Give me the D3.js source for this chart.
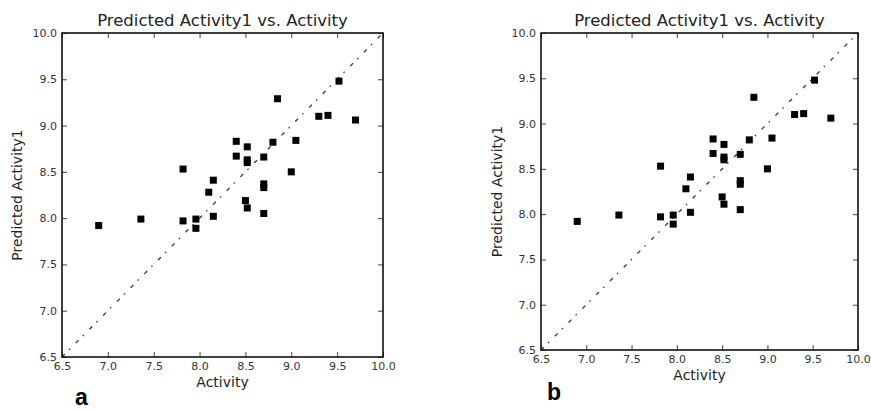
<!DOCTYPE html>
<html>
<head>
<meta charset="utf-8">
<script src="https://cdn.jsdelivr.net/npm/d3@7"></script>
<style>
  html, body { margin: 0; padding: 0; background: #fff; }
  svg { display: block; }
</style>
</head>
<body>
<svg id="chart" width="871" height="410"></svg>
<script>
// Data (same observations in both panels)
const activity = [6.90, 7.36, 7.82, 7.82, 7.96, 7.96, 8.10, 8.15, 8.15, 8.40, 8.40,
  8.52, 8.52, 8.52, 8.52, 8.50, 8.70, 8.70, 8.70, 8.70, 8.80, 9.00, 9.05, 8.85,
  9.30, 9.40, 9.52, 9.70];
const predicted = [7.92, 7.99, 8.53, 7.97, 7.99, 7.89, 8.28, 8.41, 8.02, 8.83, 8.67,
  8.77, 8.63, 8.60, 8.11, 8.19, 8.66, 8.37, 8.33, 8.05, 8.82, 8.50, 8.84, 9.29,
  9.10, 9.11, 9.48, 9.06];
const tickValues = [6.5, 7.0, 7.5, 8.0, 8.5, 9.0, 9.5, 10.0];
const domain = [6.5, 10.0];
const titleText = "Predicted Activity1 vs. Activity";
const xLabel = "Activity";
const yLabel = "Predicted Activity1";
const panelLetters = ["a", "b"];

const svg = d3.select("#chart");
const fontFam = "'DejaVu Sans', sans-serif";

const panels = [
  { left: 62, right: 383, top: 33, bottom: 357, ylabX: 22, letterX: 75, letterY: 405 },
  { left: 541, right: 858, top: 33, bottom: 350, ylabX: 502, letterX: 547, letterY: 400 }
];

panels.forEach((p, i) => {
  const x = d3.scaleLinear().domain(domain).range([p.left, p.right]);
  const y = d3.scaleLinear().domain(domain).range([p.bottom, p.top]);
  const g = svg.append("g");

  // diagonal reference line
  g.append("line")
    .attr("x1", x(domain[0])).attr("y1", y(domain[0]))
    .attr("x2", x(domain[1])).attr("y2", y(domain[1]))
    .attr("stroke", "#333").attr("stroke-width", 1.3)
    .attr("stroke-dasharray", "4,6,1.5,8");

  // points
  g.selectAll("rect.pt").data(activity.map((a, k) => [a, predicted[k]]))
    .enter().append("rect").attr("class", "pt")
    .attr("x", d => x(d[0]) - 3.5).attr("y", d => y(d[1]) - 3.5)
    .attr("width", 7).attr("height", 7)
    .attr("fill", "#000");

  const tickLen = 5;
  const fmt = d3.format(".1f");
  const axB = d3.axisBottom(x).tickValues(tickValues).tickFormat(fmt).tickSizeInner(-tickLen).tickSizeOuter(0).tickPadding(8);
  const gb = g.append("g").attr("transform", `translate(0,${p.bottom})`).call(axB);
  const axT = d3.axisTop(x).tickValues(tickValues).tickFormat("").tickSizeInner(-tickLen).tickSizeOuter(0);
  const gt = g.append("g").attr("transform", `translate(0,${p.top})`).call(axT);
  const axL = d3.axisLeft(y).tickValues(tickValues).tickFormat(fmt).tickSizeInner(-tickLen).tickSizeOuter(0).tickPadding(5);
  const gl = g.append("g").attr("transform", `translate(${p.left},0)`).call(axL);
  const axR = d3.axisRight(y).tickValues(tickValues).tickFormat("").tickSizeInner(-tickLen).tickSizeOuter(0);
  const gr = g.append("g").attr("transform", `translate(${p.right},0)`).call(axR);

  [gb, gt, gl, gr].forEach(a => {
    a.select(".domain").remove();
    a.selectAll(".tick line").attr("stroke", "#444").attr("stroke-width", 1);
    a.selectAll(".tick text").attr("font-family", fontFam).attr("font-size", 11).attr("fill", "#333");
  });
  gb.selectAll(".tick text").attr("dy", "0.71em").attr("y", 5);
  gl.selectAll(".tick text").attr("x", -5);

  // frame
  g.append("rect")
    .attr("x", p.left).attr("y", p.top)
    .attr("width", p.right - p.left).attr("height", p.bottom - p.top)
    .attr("fill", "none").attr("stroke", "#111").attr("stroke-width", 1.6);

  const cx = (p.left + p.right) / 2;
  g.append("text").attr("x", cx).attr("y", 25.5)
    .attr("text-anchor", "middle").attr("font-family", fontFam)
    .attr("font-size", 16.5).attr("fill", "#222").text(titleText);

  g.append("text").attr("x", cx).attr("y", p.bottom + 30)
    .attr("text-anchor", "middle").attr("font-family", fontFam)
    .attr("font-size", 14).attr("fill", "#222").text(xLabel);

  const cy = (p.top + p.bottom) / 2;
  g.append("text")
    .attr("transform", `translate(${p.ylabX},${cy}) rotate(-90)`)
    .attr("text-anchor", "middle").attr("font-family", fontFam)
    .attr("font-size", 14).attr("fill", "#222").text(yLabel);

  g.append("text").attr("x", p.letterX).attr("y", p.letterY)
    .attr("font-family", "'Liberation Sans', Arial, sans-serif").attr("font-weight", "bold")
    .attr("font-size", 23).attr("fill", "#000").text(panelLetters[i]);
});
</script>
</body>
</html>
